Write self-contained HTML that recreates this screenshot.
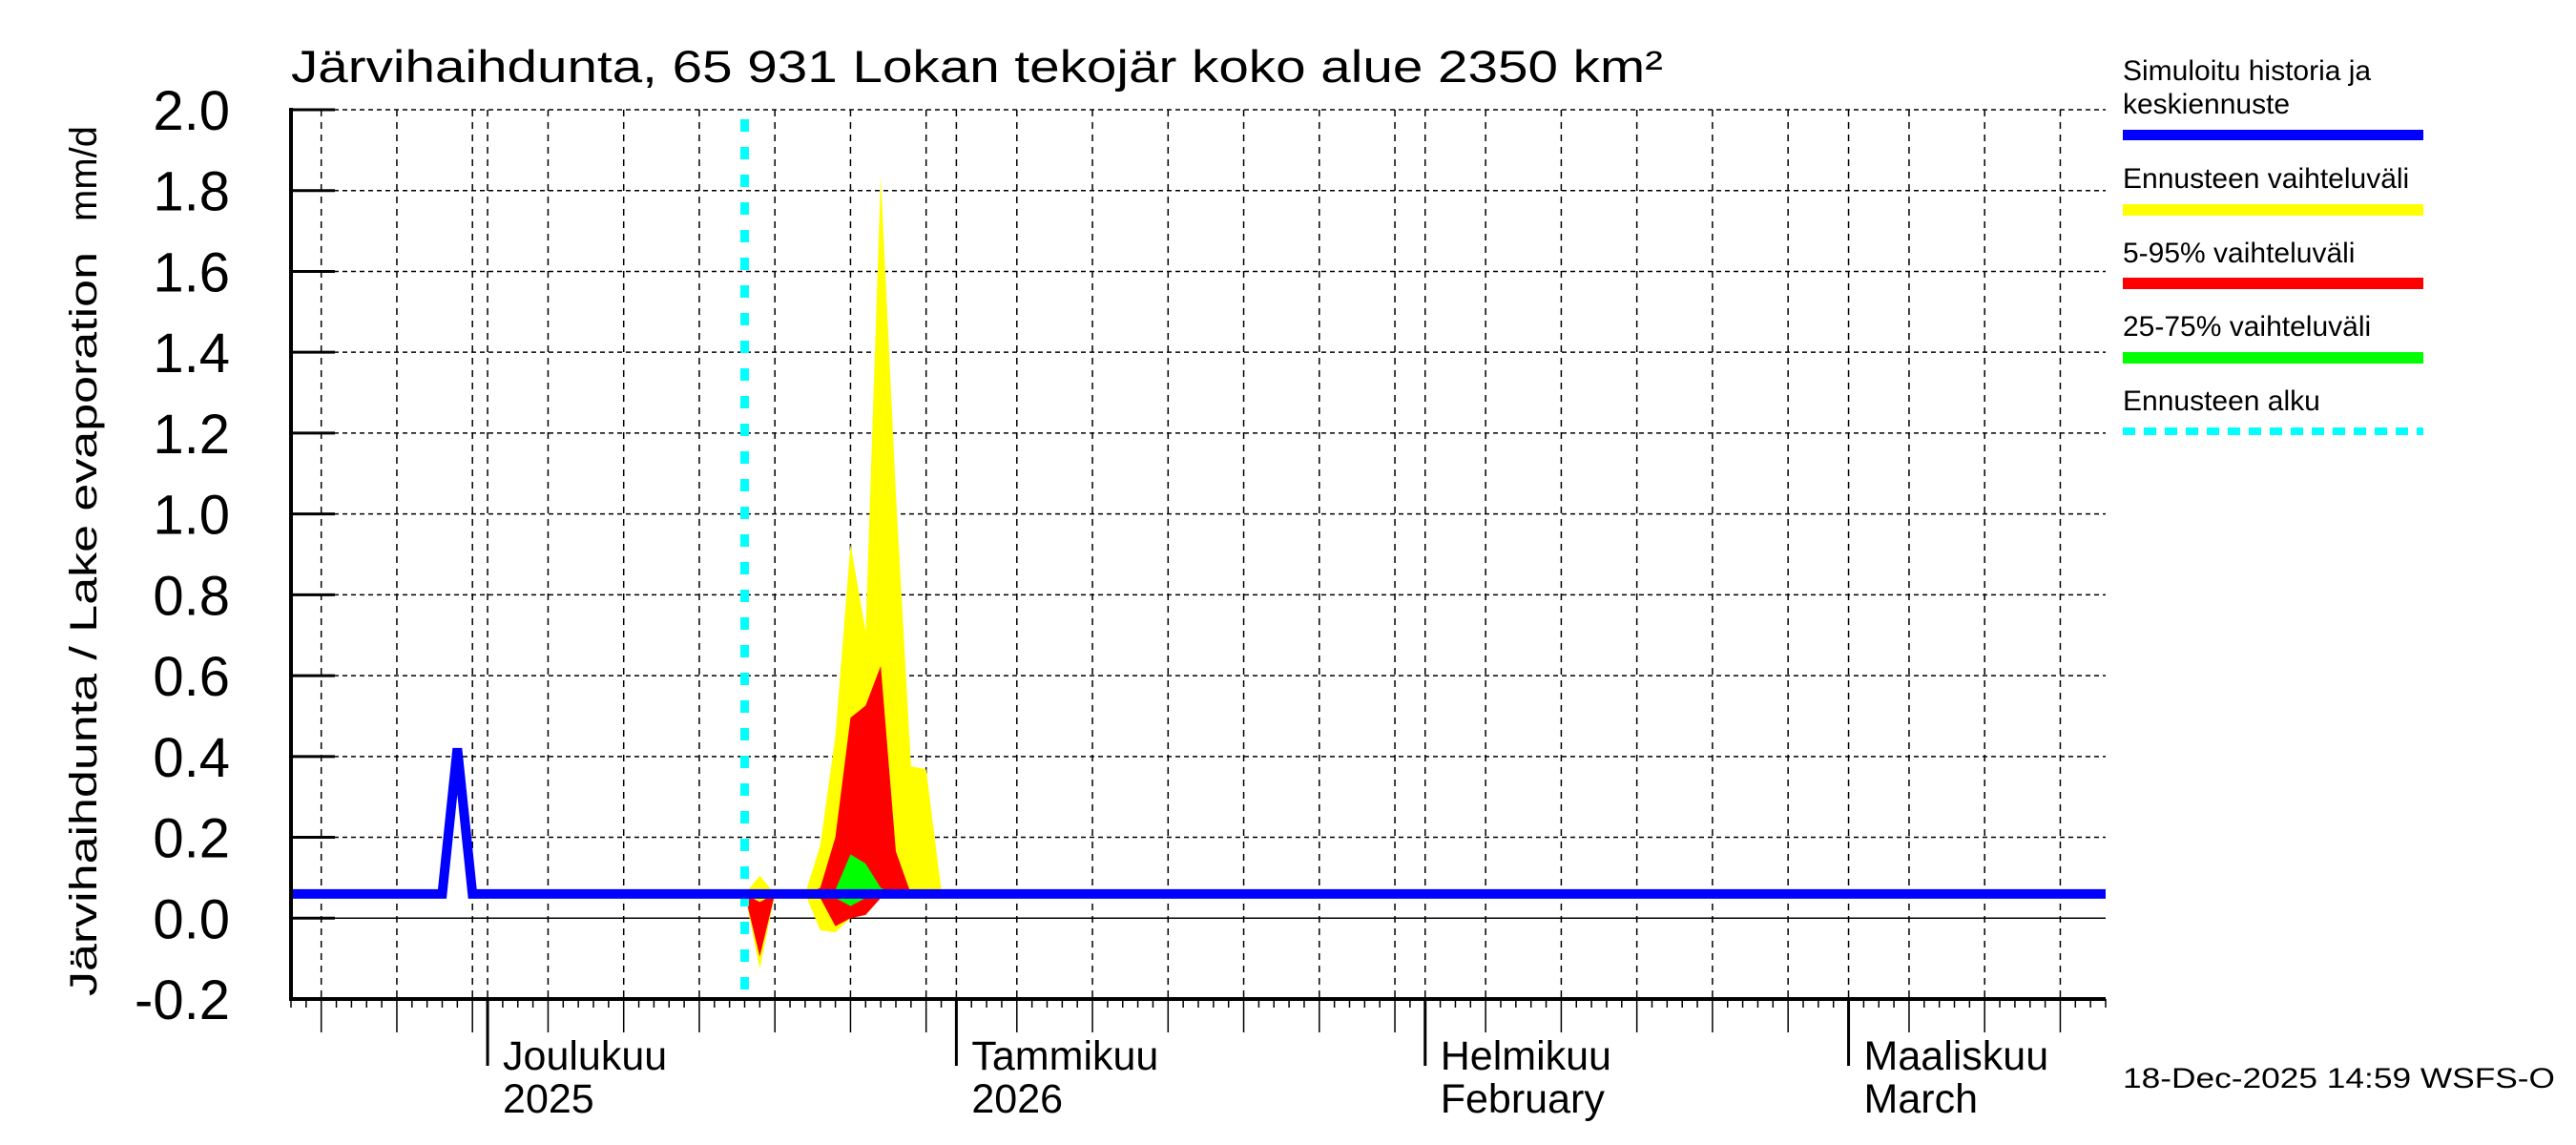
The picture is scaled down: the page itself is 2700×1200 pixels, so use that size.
<!DOCTYPE html>
<html><head><meta charset="utf-8"><style>
html,body{margin:0;padding:0;background:#fff;}
svg{display:block;font-family:"Liberation Sans",sans-serif;}
</style></head><body>
<svg id="chart" width="2700" height="1200" viewBox="0 0 2700 1200" xmlns="http://www.w3.org/2000/svg">
<rect x="0" y="0" width="2700" height="1200" fill="#fff"/>
<text x="305" y="86" font-size="47" textLength="1438" lengthAdjust="spacingAndGlyphs">Järvihaihdunta, 65 931 Lokan tekojär koko alue 2350 km²</text>
<text transform="translate(101,1044) rotate(-90)" font-size="40"><tspan textLength="780" lengthAdjust="spacingAndGlyphs">Järvihaihdunta / Lake evaporation</tspan><tspan x="812">mm/d</tspan></text>
<g id="grid"></g>
<g id="bands"></g>
<g id="lines"></g>
<g id="axes"></g>
<g id="legend">
<text x="2225" y="84" font-size="30">Simuloitu historia ja</text>
<text x="2225" y="119" font-size="30">keskiennuste</text>
<rect x="2225" y="136" width="315" height="11" fill="#0000ff"/>
<text x="2225" y="197" font-size="30">Ennusteen vaihteluväli</text>
<rect x="2225" y="214" width="315" height="12" fill="#ffff00"/>
<text x="2225" y="275" font-size="30">5-95% vaihteluväli</text>
<rect x="2225" y="291" width="315" height="12" fill="#ff0000"/>
<text x="2225" y="352" font-size="30">25-75% vaihteluväli</text>
<rect x="2225" y="369" width="315" height="12" fill="#00ff00"/>
<text x="2225" y="430" font-size="30">Ennusteen alku</text>
<line x1="2225" y1="452" x2="2540" y2="452" stroke="#00ffff" stroke-width="8" stroke-dasharray="13,9"/>
</g>
<text x="2225" y="1140" font-size="30" textLength="453" lengthAdjust="spacingAndGlyphs">18-Dec-2025 14:59 WSFS-O</text>
</svg>
<script>
// data (day index from 18-Nov-2025)
const historyDays = [0, 10, 11, 12, 120];
const historyValues = [0.06, 0.06, 0.42, 0.06, 0.06];
const bandDays = [30, 31, 32, 33, 34, 35, 36, 37, 38, 39, 40, 41, 42, 43, 44];
const yellowHi = [0.06, 0.105, 0.06, 0.06, 0.06, 0.18, 0.45, 0.925, 0.71, 1.835, 1.05, 0.376, 0.368, 0.07, 0.06];
const yellowLo = [0.06, -0.125, 0.06, 0.06, 0.06, -0.03, -0.035, 0.0, 0.008, 0.05, 0.06, 0.06, 0.06, 0.06, 0.06];
const redHi = [0.06, 0.04, 0.06, 0.06, 0.06, 0.075, 0.2, 0.496, 0.526, 0.624, 0.165, 0.06, 0.06, 0.06, 0.06];
const redLo = [0.06, -0.095, 0.06, 0.06, 0.06, 0.05, -0.02, 0.0, 0.008, 0.05, 0.06, 0.06, 0.06, 0.06, 0.06];
const greenHi = [0.06, 0.06, 0.06, 0.06, 0.06, 0.06, 0.07, 0.158, 0.135, 0.075, 0.06, 0.06, 0.06, 0.06, 0.06];
const greenLo = [0.06, 0.06, 0.06, 0.06, 0.06, 0.06, 0.05, 0.03, 0.05, 0.06, 0.06, 0.06, 0.06, 0.06, 0.06];
const forecastStartDay = 30;
const yTicks = [-0.2, 0.0, 0.2, 0.4, 0.6, 0.8, 1.0, 1.2, 1.4, 1.6, 1.8, 2.0];
const yTickLabels = ["-0.2", "0.0", "0.2", "0.4", "0.6", "0.8", "1.0", "1.2", "1.4", "1.6", "1.8", "2.0"];
const monthStartDays = [13, 44, 75, 103];
const monthLabels = ["Joulukuu", "Tammikuu", "Helmikuu", "Maaliskuu"];
const monthLabels2 = ["2025", "2026", "February", "March"];
const gridDays = [2, 7, 12, 13, 17, 22, 27, 32, 37, 42, 44, 48, 53, 58, 63, 68, 73, 75, 79, 84, 89, 94, 99, 103, 107, 112, 117];

const X0 = 305, X1 = 2207, Y0 = 1047, Y1 = 115, DAYS = 120, VMIN = -0.2, VMAX = 2.0;
function xs(d) { return X0 + d * (X1 - X0) / DAYS; }
function ys(v) { return Y0 - (v - VMIN) * (Y0 - Y1) / (VMAX - VMIN); }
const NS = "http://www.w3.org/2000/svg";
function mk(tag, attrs, parent) {
  const e = document.createElementNS(NS, tag);
  for (const k in attrs) e.setAttribute(k, attrs[k]);
  parent.appendChild(e);
  return e;
}
const grid = document.getElementById('grid');
const bands = document.getElementById('bands');
const lines = document.getElementById('lines');
const axes = document.getElementById('axes');

yTicks.forEach((v, i) => {
  if (v === VMIN) return;
  const l = mk('line', {x1: X0, x2: X1, y1: ys(v), y2: ys(v), stroke: '#000', 'stroke-width': 1.5, 'stroke-dasharray': v === 0 ? 'none' : '5,4'}, grid);
  
  
});
gridDays.forEach(d => {
  const l = mk('line', {x1: xs(d), x2: xs(d), y1: Y1, y2: Y0, stroke: '#000', 'stroke-width': 1.5, 'stroke-dasharray': '7,6'}, grid);
  
  
});

function band(hi, lo, color, name) {
  let pts = [];
  for (let i = 0; i < bandDays.length; i++) pts.push(xs(bandDays[i]) + ',' + ys(hi[i]));
  for (let i = bandDays.length - 1; i >= 0; i--) pts.push(xs(bandDays[i]) + ',' + ys(lo[i]));
  const p = mk('polygon', {points: pts.join(' '), fill: color}, bands);
  
  
}
band(yellowHi, yellowLo, '#ffff00', 'forecast-range-band');
band(redHi, redLo, '#ff0000', 'band-5-95');
band(greenHi, greenLo, '#00ff00', 'band-25-75');

const fs = mk('line', {x1: xs(forecastStartDay), x2: xs(forecastStartDay), y1: 125, y2: Y0, stroke: '#00ffff', 'stroke-width': 9, 'stroke-dasharray': '13,16'}, lines);



const hp = mk('polyline', {points: historyDays.map((d, i) => xs(d) + ',' + ys(historyValues[i])).join(' '), fill: 'none', stroke: '#0000ff', 'stroke-width': 10, 'stroke-linejoin': 'miter'}, lines);



const ya = mk('line', {x1: X0, x2: X0, y1: Y1 - 2, y2: Y0 + 2, stroke: '#000', 'stroke-width': 4}, axes);


const xa = mk('line', {x1: X0 - 2, x2: X1, y1: Y0, y2: Y0, stroke: '#000', 'stroke-width': 4}, axes);



yTicks.forEach((v, i) => {
  const t = mk('line', {x1: X0, x2: X0 + 46, y1: ys(v), y2: ys(v), stroke: '#000', 'stroke-width': 3}, axes);
  
  
  const lb = mk('text', {x: 241, y: ys(v) + 21, 'font-size': 58, 'text-anchor': 'end'}, axes);
  
  
  lb.textContent = yTickLabels[i];
});
for (let d = 0; d <= DAYS; d++) {
  let len = 9;
  if (gridDays.includes(d)) len = 35;
  if (monthStartDays.includes(d)) len = 70;
  const t = mk('line', {x1: xs(d), x2: xs(d), y1: Y0, y2: Y0 + len, stroke: '#000', 'stroke-width': monthStartDays.includes(d) ? 3 : 1.5}, axes);
  
  
}
monthStartDays.forEach((d, i) => {
  const a = mk('text', {x: xs(d) + 16, y: 1121, 'font-size': 43}, axes);
  
  
  a.textContent = monthLabels[i];
  const b = mk('text', {x: xs(d) + 16, y: 1166, 'font-size': 43}, axes);
  
  
  b.textContent = monthLabels2[i];
});
</script>
</body></html>
